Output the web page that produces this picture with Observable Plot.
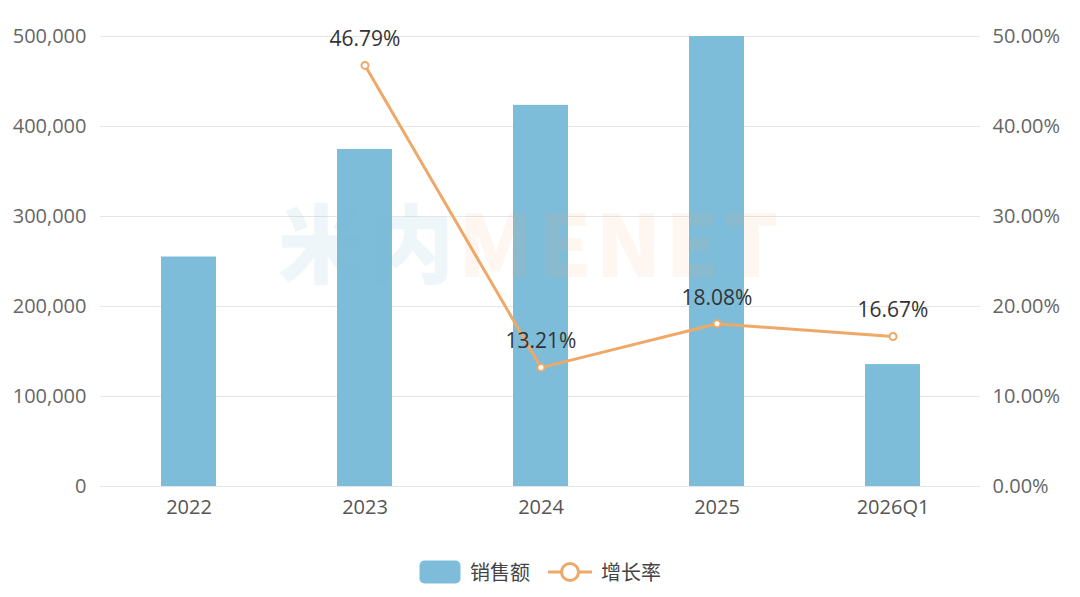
<!DOCTYPE html>
<html>
<head>
<meta charset="utf-8">
<script src="https://cdn.jsdelivr.net/npm/d3@7"></script>
<script src="https://cdn.jsdelivr.net/npm/@observablehq/plot@0.6"></script>
<style>
  html, body { margin: 0; padding: 0; background: #fff; }
  body { width: 1080px; height: 597px; position: relative; overflow: hidden;
         font-family: "Open Sans", "Noto Sans CJK SC", sans-serif; }
  #chart { position: absolute; left: 0; top: 0; }
  #wm { position: absolute; left: 278px; top: 208px; font-family: "Noto Sans CJK SC", sans-serif;
        font-weight: 900; font-size: 86px; line-height: 64px; height: 64px; white-space: nowrap; letter-spacing: 4px;
        pointer-events: none; }
  #wm span { display: inline-block; height: 64px; line-height: 64px; vertical-align: top; }
  #legend { position: absolute; left: 0; top: 557px; width: 1080px; display: flex; justify-content: center;
            align-items: center; font-family: "Noto Sans CJK SC", sans-serif; font-size: 20px; color: #444; }
  #legend .item { display: flex; align-items: center; margin: 0 9px; }
  #legend svg { margin-right: 9px; }
</style>
</head>
<body>
<div id="chart"></div>
<div id="wm"><span style="color:rgba(120,180,210,0.12)">米内</span><span style="color:rgba(245,170,110,0.10)">MENET</span></div>
<div id="legend">
  <div class="item"><svg width="42" height="24"><rect x="0.5" y="0.5" width="41" height="23" rx="5" fill="#7dbdd9"/></svg><span>销售额</span></div>
  <div class="item"><svg width="44" height="24"><line x1="0" y1="12" x2="44" y2="12" stroke="#eea867" stroke-width="3"/><circle cx="22" cy="12" r="8.5" fill="#fff" stroke="#eea867" stroke-width="3"/></svg><span>增长率</span></div>
</div>
<script>
const categories = ["2022", "2023", "2024", "2025", "2026Q1"];
const sales = [255000, 374500, 423500, 500000, 135500];
const growthCats = ["2023", "2024", "2025", "2026Q1"];
const growth = [46.79, 13.21, 18.08, 16.67];
const leftTicks = [0, 100000, 200000, 300000, 400000, 500000];
const rightTicks = [0, 10, 20, 30, 40, 50];

const barData = categories.map((c, i) => ({cat: c, value: sales[i]}));
const lineData = growthCats.map((c, i) => ({cat: c, pct: growth[i], y: growth[i] * 10000}));
const rightTickPos = rightTicks.map(t => t * 10000);

const chart = Plot.plot({
  width: 1080,
  height: 540,
  marginTop: 36,
  marginBottom: 54,
  marginLeft: 100,
  marginRight: 100,
  style: {background: "transparent", fontFamily: "'Open Sans', sans-serif"},
  x: {domain: categories, paddingInner: 0.69, paddingOuter: 0.345, align: 0.5},
  y: {domain: [0, 500000]},
  marks: [
    Plot.gridY(leftTicks, {stroke: "#e6e6e6", strokeOpacity: 1, strokeWidth: 1}),
    Plot.barY(barData, {x: "cat", y: "value", fill: "#7dbdd9", fillOpacity: 1}),
    Plot.axisY(leftTicks, {anchor: "left", tickSize: 0, tickPadding: 14, fontSize: 20, fill: "#666",
      tickFormat: d => d3.format(",")(d), label: null}),
    Plot.axisY(rightTickPos, {anchor: "right", tickSize: 0, tickPadding: 12, fontSize: 20, fill: "#666",
      tickFormat: d => (d / 10000).toFixed(2) + "%", label: null}),
    Plot.axisX({tickSize: 0, tickPadding: 13, fontSize: 20, fill: "#555", label: null}),
    Plot.line(lineData, {x: "cat", y: "y", stroke: "#eea867", strokeWidth: 3}),
    Plot.dot(lineData, {x: "cat", y: "y", r: 3.5, fill: "#fff", stroke: "#eea867", strokeWidth: 2}),
    Plot.text(lineData, {x: "cat", y: "y", text: d => d.pct.toFixed(2) + "%", dy: -26, fontSize: 21, fill: "#333"})
  ]
});
document.getElementById("chart").appendChild(chart);
</script>
</body>
</html>
